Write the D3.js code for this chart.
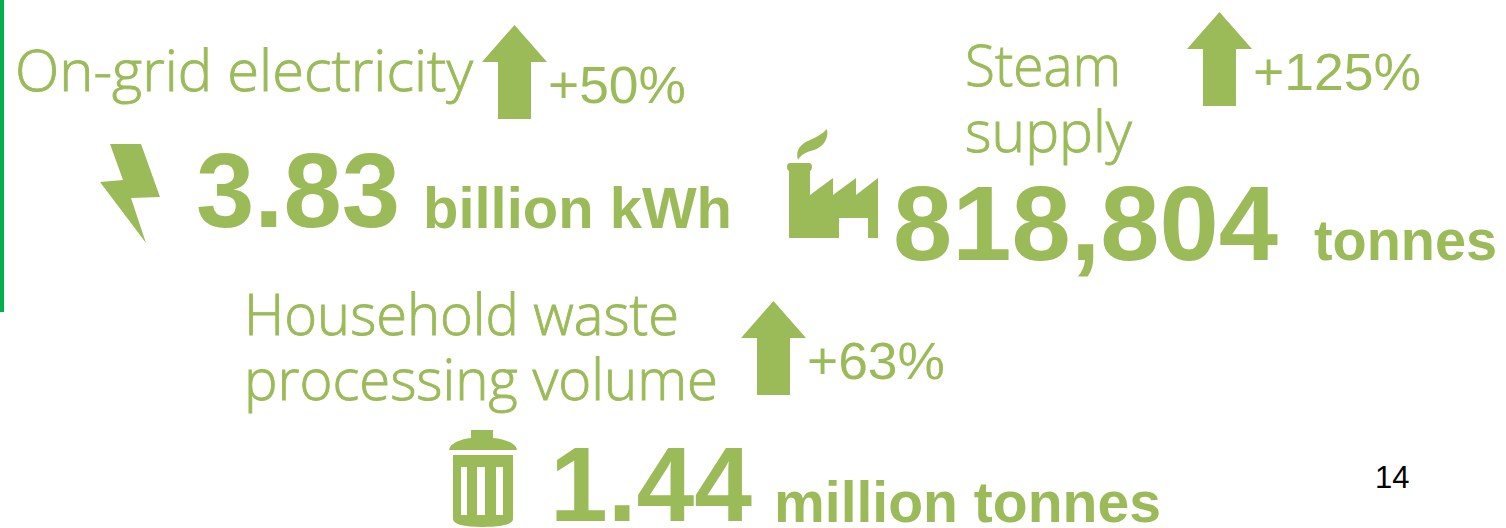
<!DOCTYPE html>
<html>
<head>
<meta charset="utf-8">
<script src="https://cdn.jsdelivr.net/npm/d3@7"></script>
<style>
  html, body { margin: 0; padding: 0; background: #fff; overflow: hidden; }
  text { white-space: pre; }
</style>
</head>
<body>
<div id="chart"></div>
<script>
const width = 1506
const height = 528
const green = "#9bbb59"

// Values
const labels = ["On-grid electricity", "Steam", "supply", "Household waste", "processing volume"]
const changes = ["+50%", "+125%", "+63%"]
const amounts = ["3.83", "818,804", "1.44"]
const units = ["billion kWh", "tonnes", "million tonnes"]
const pageNumber = "14"

const svg = d3.select("div#chart").append("svg").attr("width", width).attr("height", height)

// Green edge on the left of the slide
svg.append("rect").attr("x", 0).attr("y", 0).attr("width", 4).attr("height", 312).attr("fill", "#00b050")

// Helper: text stretched to the width it has in the reference
function addText(str, x0, x1, baseline, size, family, weight, stroke) {
    svg.append("text")
        .attr("x", x0)
        .attr("y", baseline)
        .attr("textLength", x1 - x0)
        .attr("lengthAdjust", "spacingAndGlyphs")
        .attr("font-family", family)
        .attr("font-size", size)
        .attr("font-weight", weight)
        .attr("fill", green)
        .attr("stroke", stroke ? green : "none")
        .attr("stroke-width", stroke || 0)
        .text(str)
}

const thin = "'Open Sans', 'Noto Sans', sans-serif"
const arial = "'Liberation Sans', Arial, sans-serif"

// Light labels (slightly thickened, the original face is a semilight)
addText(labels[0], 15, 473, 91, 57, thin, 300, 0.9)
addText(labels[1], 965, 1121, 86, 57, thin, 300, 0.9)
addText(labels[2], 965, 1132, 152, 57, thin, 300, 0.9)
addText(labels[3], 244, 679, 335, 57, thin, 300, 0.9)
addText(labels[4], 244, 718, 400, 57, thin, 300, 0.9)

// Percent changes
addText(changes[0], 548, 686, 103, 52, arial, 400)
addText(changes[1], 1253, 1421, 90, 52, arial, 400)
addText(changes[2], 807, 945, 379, 52, arial, 400)

// Big numbers
addText(amounts[0], 196, 400, 227, 106, arial, 700)
addText(amounts[1], 893, 1278, 260, 106, arial, 700)
addText(amounts[2], 550, 752, 521, 106, arial, 700)

// Units
addText(units[0], 423, 732, 228, 58, arial, 700)
addText(units[1], 1314, 1497, 260, 58, arial, 700)
addText(units[2], 774, 1161, 522, 58, arial, 700)

// Page number
svg.append("text").attr("x", 1375).attr("y", 488)
    .attr("font-family", arial).attr("font-size", 31).attr("fill", "#000")
    .text(pageNumber)

// Up arrows
const outline = d3.line()
function addArrow(cx, top) {
    const shape = [[0, 0], [32.5, 37], [16.5, 37], [16.5, 94], [-16.5, 94], [-16.5, 37], [-32.5, 37]]
    svg.append("path")
        .attr("transform", `translate(${cx}, ${top})`)
        .attr("d", outline(shape) + "Z")
        .attr("fill", green)
}
addArrow(514.5, 25)
addArrow(1219.5, 12)
addArrow(773.5, 301)

// Lightning bolt
svg.append("path")
    .attr("transform", "translate(100, 144)")
    .attr("d", outline([[10, 0], [41, 0], [60, 53], [31, 54], [46, 99], [0, 38], [23, 36]]) + "Z")
    .attr("fill", green)

// Factory
const factory = svg.append("g").attr("transform", "translate(787, 129)").attr("fill", green)
factory.append("path").attr("d", "M3,34 H22 Q25,34 25,38 Q25,41 23,42 V66 L46,49 V66 L69,49 V66 L91,49 V109 H81 V89 H52 V109 H2 V42 Q0,41 0,38 Q0,34 3,34Z")
factory.append("path").attr("d", "M11,31 C8,20 14,15 23,11 C30,8 35,5 40,0 C42,10 36,18 27,21 C20,23 14,25 11,31Z")

// Bin
const bin = svg.append("g").attr("transform", "translate(449, 430)").attr("fill", green)
bin.append("path").attr("d", "M22,0 H44 V8 C56,9 67,13 68,20 H0 C1,13 12,9 22,8Z")
bin.append("path")
    .attr("fill-rule", "evenodd")
    .attr("d", "M4,25 H64 V89 C64,94 54,97 34,97 C14,97 4,94 4,89Z M12,37 V85 H18 V37Z M28,37 V85 H36 V37Z M47,37 V85 H54 V37Z")
</script>
</body>
</html>
